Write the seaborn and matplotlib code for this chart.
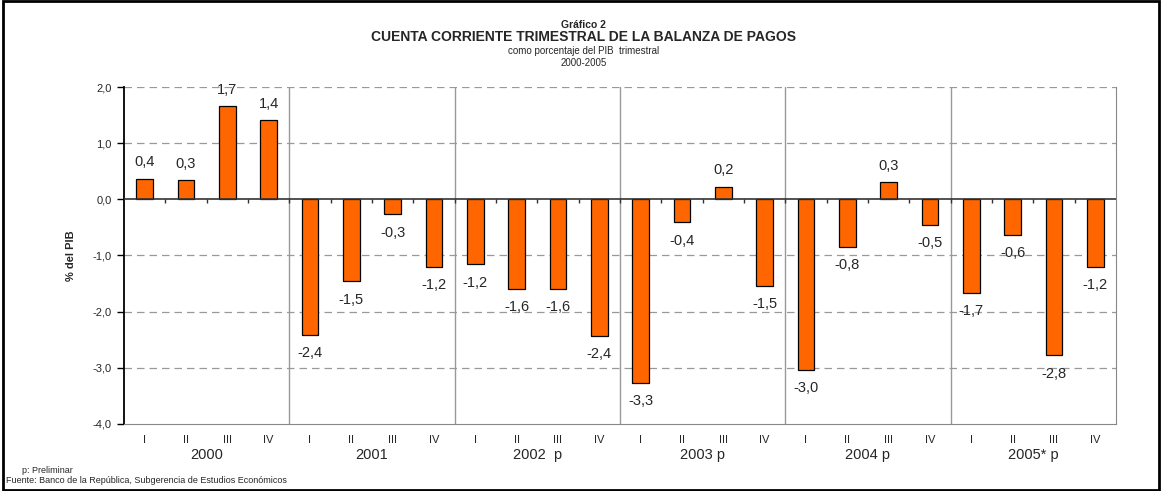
import matplotlib
matplotlib.use('Agg')
import matplotlib.pyplot as plt
import seaborn as sns
import pandas as pd
from matplotlib.patches import Rectangle

# datos
years = ['2000', '2001', '2002  p', '2003 p', '2004 p', '2005* p']
quarters = ['I', 'II', 'III', 'IV']
values = [0.37, 0.34, 1.66, 1.41,
          -2.41, -1.46, -0.27, -1.2,
          -1.16, -1.59, -1.59, -2.43,
          -3.27, -0.41, 0.22, -1.54,
          -3.04, -0.84, 0.3, -0.46,
          -1.67, -0.63, -2.78, -1.2]
y_ticks = [2.0, 1.0, 0.0, -1.0, -2.0, -3.0, -4.0]

periods = [f'{y}-{q}' for y in years for q in quarters]
df = pd.DataFrame({'periodo': periods, 'valor': values})

sns.set_style('white')
plt.rcParams['font.family'] = ['Liberation Sans', 'DejaVu Sans']

fig = plt.figure(figsize=(11.62, 4.91), dpi=100)
ax = fig.add_axes([0.1067, 0.1365, 0.8537, 0.6863])

sns.barplot(data=df, x='periodo', y='valor', order=periods, color='#FF6600',
            saturation=1, width=0.4, edgecolor='black', linewidth=0.9, ax=ax, zorder=3)

ax.set_xlim(-0.5, len(periods) - 0.5)
ax.set_ylim(-4, 2)
ax.set_yticks(y_ticks)
ax.set_yticklabels([f'{t:.1f}'.replace('.', ',') for t in y_ticks], fontsize=8)
for t in y_ticks[:-1]:
    if t != 0:
        ax.axhline(t, color='#999999', linestyle=(0, (6, 4)), linewidth=0.9, zorder=1)
ax.axhline(0, color='#333333', linewidth=1.2, zorder=4)
ax.vlines([i + 0.5 for i in range(len(periods) - 1)], 0, -0.07, color='#333333', linewidth=1, zorder=4)

# separadores por año
for k in range(1, len(years)):
    ax.axvline(k * 4 - 0.5, color='#999999', linewidth=1, zorder=2)

ax.set_xticks(range(len(periods)))
ax.set_xticklabels(quarters * len(years), fontsize=8)
ax.tick_params(axis='x', length=0, pad=8)
ax.tick_params(axis='y', left=True, length=5, width=1, color='black', pad=4)
ax.set_xlabel('')
ax.set_ylabel('% del PIB', fontsize=8, fontweight='bold', labelpad=12)

for k, y in enumerate(years):
    ax.text(k * 4 + 1.5, -4.42, y, ha='center', va='top', fontsize=10.5)

for i, v in enumerate(values):
    lab = f'{v:.1f}'.replace('.', ',')
    if v >= 0:
        ax.text(i, v + 0.17, lab, ha='center', va='bottom', fontsize=10.5)
    else:
        ax.text(i, v - 0.2, lab, ha='center', va='top', fontsize=10.5)

ax.spines['top'].set_visible(False)
ax.spines['left'].set_color('black')
ax.spines['left'].set_linewidth(1.3)
ax.spines['bottom'].set_color('#888888')
ax.spines['right'].set_color('#888888')

fig.text(0.502, 0.950, 'Gráfico 2', ha='center', va='center', fontsize=7.5, fontweight='bold')
fig.text(0.502, 0.924, 'CUENTA CORRIENTE TRIMESTRAL DE LA BALANZA DE PAGOS', ha='center', va='center',
         fontsize=10, fontweight='bold')
fig.text(0.502, 0.896, 'como porcentaje del PIB  trimestral', ha='center', va='center', fontsize=7)
fig.text(0.502, 0.871, '2000-2005', ha='center', va='center', fontsize=7)

fig.text(0.019, 0.041, 'p: Preliminar', ha='left', va='center', fontsize=6.5)
fig.text(0.005, 0.021, 'Fuente: Banco de la República, Subgerencia de Estudios Económicos', ha='left',
         va='center', fontsize=6.5)

fig.patches.append(Rectangle((0.003, 0.003), 0.994, 0.994, transform=fig.transFigure, fill=False,
                             edgecolor='black', linewidth=2))

fig.savefig('out.png', dpi=100)
